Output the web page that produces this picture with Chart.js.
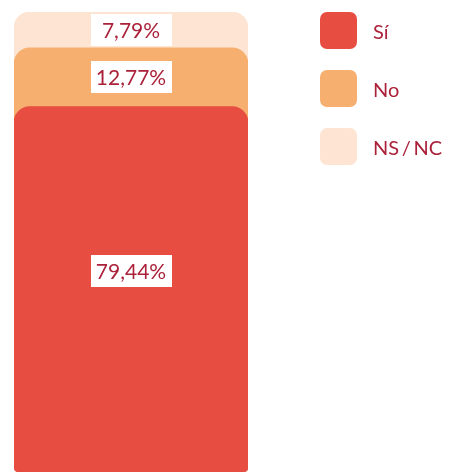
<!DOCTYPE html>
<html>
<head>
<meta charset="utf-8">
<script src="https://cdn.jsdelivr.net/npm/chart.js@4.4.1/dist/chart.umd.min.js"></script>
<style>
html,body{margin:0;padding:0;background:#fff;}
#wrap{position:relative;width:449px;height:472px;overflow:hidden;}
#chart{position:absolute;left:0;top:0;}
#legend{position:absolute;left:320px;top:12px;font-family:Lato,"Noto Sans",sans-serif;font-size:20px;color:#ab2139;word-spacing:-2.5px;}
.item{display:flex;align-items:center;height:37px;margin-bottom:21px;white-space:nowrap;}
.sw{width:37px;height:37px;border-radius:7px;margin-right:16px;flex:none;}
</style>
</head>
<body>
<div id="wrap">
<canvas id="chart" width="449" height="472"></canvas>
<div id="legend"></div>
</div>
<script>
const categories = ["Sí", "No", "NS / NC"];
const values = [79.44, 12.77, 7.79];
const valueLabels = ["79,44%", "12,77%", "7,79%"];
const colors = ["#e84d42", "#f7af70", "#fde4d3"];

// cumulative tops so every segment overlaps the one below it
const tops = values.map((v, i) => values.slice(0, i + 1).reduce((a, b) => a + b, 0));

const legend = document.getElementById('legend');
categories.forEach((c, i) => {
  const it = document.createElement('div');
  it.className = 'item';
  const sw = document.createElement('div');
  sw.className = 'sw';
  sw.style.background = colors[i];
  const tx = document.createElement('span');
  tx.textContent = c;
  it.appendChild(sw); it.appendChild(tx);
  legend.appendChild(it);
});

const labelPlugin = {
  id: 'segLabels',
  afterDatasetsDraw(chart, args, opts) {
    const ctx = chart.ctx;
    ctx.save();
    ctx.font = opts.font;
    ctx.textAlign = 'center';
    ctx.textBaseline = 'middle';
    chart.data.datasets.forEach((ds, i) => {
      const el = chart.getDatasetMeta(i).data[0];
      const lower = i === 0 ? el.base : chart.getDatasetMeta(i - 1).data[0].y;
      const cy = (el.y + lower) / 2 + (opts.shift[i] || 0);
      const cx = el.x;
      ctx.fillStyle = '#ffffff';
      ctx.fillRect(Math.round(cx - opts.boxW / 2), Math.round(cy - opts.boxH / 2), opts.boxW, opts.boxH);
      ctx.fillStyle = opts.color;
      ctx.fillText(valueLabels[i], cx, cy + 1);
    });
    ctx.restore();
  }
};

new Chart(document.getElementById('chart'), {
  type: 'bar',
  data: {
    labels: [''],
    datasets: categories.map((c, i) => ({
      label: c,
      data: [tops[i]],
      backgroundColor: colors[i],
      borderWidth: 0,
      borderSkipped: false,
      borderRadius: {topLeft: 16, topRight: 16, bottomLeft: 5, bottomRight: 5},
      grouped: false,
      barPercentage: 1,
      categoryPercentage: 1
    }))
  },
  options: {
    responsive: false,
    animation: false,
    layout: {padding: {left: 14, right: 201, top: 12, bottom: 0}},
    scales: {
      x: {display: false, offset: true},
      y: {display: false, min: 0, max: 100}
    },
    plugins: {
      legend: {display: false},
      tooltip: {enabled: false},
      segLabels: {font: '21px Lato', color: '#ab2139', boxW: 81, boxH: 32, shift: [-18, 0, 0]}
    }
  },
  plugins: [labelPlugin]
});
</script>
</body>
</html>
